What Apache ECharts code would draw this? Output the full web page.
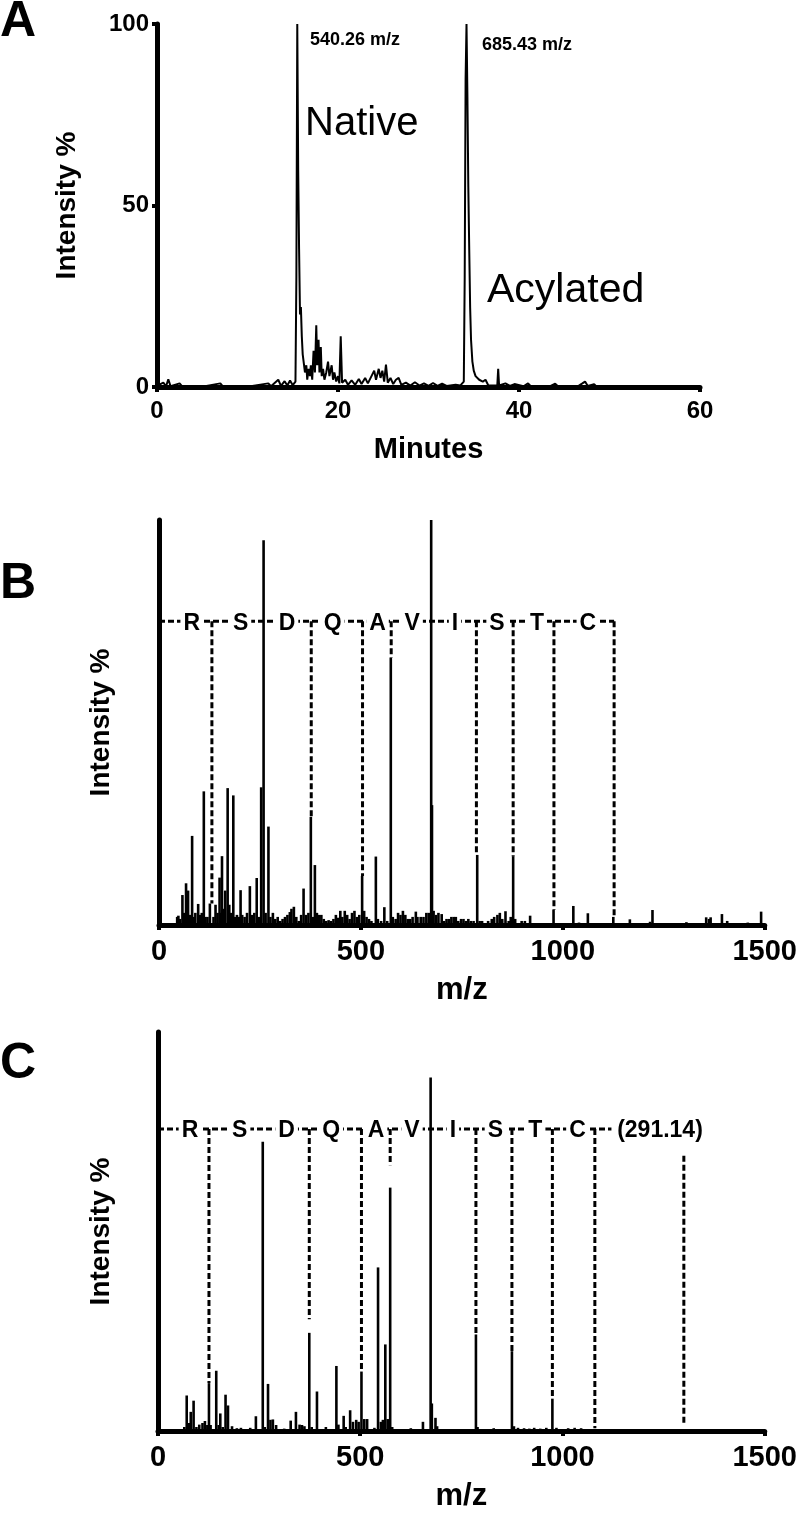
<!DOCTYPE html>
<html>
<head>
<meta charset="utf-8">
<title>Native / acylated peptide: chromatogram and MS/MS</title>
<script src="https://cdn.jsdelivr.net/npm/echarts@6/dist/echarts.min.js"></script>
<style>
html, body {margin: 0; padding: 0; background: #fff;}
#main {width: 800px; height: 1513px;}
</style>
</head>
<body>
<div id="main"></div>
<script>
// A: LC chromatogram (minutes, intensity %)
var chromTime = [0, 0.7, 1.0, 1.25, 1.5, 2.5, 2.8, 5, 7, 7.3, 10, 12.3, 12.6, 13.4, 13.7, 14.1, 14.4, 14.7, 15.0, 15.3,
	15.4, 15.5, 15.6, 15.7, 15.8, 15.9, 16.0, 16.1, 16.2, 16.35, 16.5, 16.6, 16.75, 16.9, 17.0, 17.15, 17.3, 17.45, 17.6, 17.7,
	17.85, 17.95, 18.1, 18.2, 18.35, 18.5, 18.7, 18.9, 19.05, 19.3, 19.45, 19.6, 19.8, 20.0, 20.15, 20.3, 20.45, 20.8, 21.1, 21.5,
	21.9, 22.3, 22.6, 23.0, 23.3, 23.7, 24.0, 24.2, 24.5, 24.7, 24.9, 25.1, 25.3, 25.5, 25.8, 26.1, 26.4, 26.7, 27.0, 27.5,
	28.0, 28.5, 29.0, 29.5, 30.0, 30.5, 31.0, 31.5, 32.0, 33.0, 33.5, 33.9, 34.0, 34.1, 34.2, 34.3, 34.4, 34.5, 34.6, 34.7,
	34.85, 35.0, 35.2, 35.4, 35.6, 35.8, 36.0, 36.3, 36.6, 37.0, 37.6, 37.7, 37.8, 38.5, 39.0, 39.5, 40.5, 41.0, 41.3, 43.5,
	44.0, 44.3, 46.5, 47.0, 47.3, 47.6, 48.3, 48.6];
var chromInt = [0.3, 1.2, 0.2, 2.1, 0.2, 1.0, 0.1, 0.1, 1.0, 0.1, 0.1, 1.0, 0.2, 2.0, 0.3, 1.6, 0.4, 1.8, 0.5, 1.5,
	30, 100, 60, 38, 20, 22, 14, 9, 7, 4, 6, 2, 5, 3, 6, 2, 10, 4, 17, 6,
	13, 4, 11, 3, 5, 2, 4, 7, 3, 6, 2, 4, 1.5, 3, 1, 14, 1.2, 2, 0.6, 1.8,
	0.6, 2.2, 0.8, 2.5, 1.0, 3, 4.5, 2, 5, 2.5, 4.5, 1.5, 6.2, 1.2, 2.5, 0.8, 2, 2.5, 0.6, 1.2,
	0.4, 1.3, 0.4, 1, 0.3, 1.1, 0.3, 0.9, 0.3, 0.6, 0.4, 1.5, 30, 85, 100, 80, 55, 38, 22, 13,
	7, 4.5, 3, 2.5, 2, 2, 1.5, 2, 0.5, 0.4, 0.4, 5, 0.4, 1, 0.3, 0.8, 0.2, 1, 0.2, 0.3,
	0.9, 0.2, 0.2, 1, 1.5, 0.3, 0.8, 0];

// B: MS/MS of native peptide (m/z, relative intensity %)
var specBmz = [45, 48, 52, 58, 62, 67, 72, 76, 82, 86, 90, 97, 101, 106, 111, 115, 120, 126, 135, 140,
	145, 150, 153, 156, 160, 164, 170, 174, 178, 184, 188, 193, 198, 202, 206, 212, 218, 225, 230, 236,
	242, 247, 253, 259, 264, 271, 276, 282, 288, 294, 300, 306, 312, 318, 324, 328, 334, 340, 346, 352,
	358, 364, 370, 376, 381, 386, 391, 396, 402, 408, 414, 420, 426, 432, 438, 444, 449, 454, 460, 466,
	472, 478, 484, 490, 496, 503, 508, 514, 520, 526, 537, 542, 550, 558, 565, 574, 579, 586, 592, 598,
	604, 610, 616, 622, 628, 636, 640, 648, 655, 662, 668, 674, 676, 680, 686, 692, 700, 706, 712, 718,
	724, 730, 735, 741, 748, 754, 760, 766, 772, 779, 788, 794, 800, 815, 824, 830, 838, 844, 850, 858,
	866, 871, 877, 882, 898, 906, 919, 925, 977, 990, 1026, 1040, 1062, 1125, 1166, 1216, 1222, 1306, 1355, 1362,
	1366, 1394, 1407, 1458, 1491];
var specBint = [2.0, 2.3, 1.5, 7.4, 3, 10.3, 8.5, 2.5, 22, 2, 3, 5.2, 2.5, 3, 33, 2, 2, 5.3, 2, 5,
	3, 11.7, 3, 17, 4, 8.5, 33.8, 5, 3, 32, 2, 2.5, 2, 8.6, 2.5, 2, 3, 9.6, 2.5, 3,
	11.6, 2, 34, 95, 3, 24.3, 2, 3, 1.5, 2, 1, 1.5, 2, 2.5, 3.2, 4, 4.5, 2, 1, 2.5,
	9, 2.5, 3, 26.7, 2, 14.8, 3, 2.5, 2.5, 1.5, 1, 1.2, 1, 1.5, 2.5, 1.8, 3.5, 2, 3.5, 2.5,
	1.5, 3, 3.5, 2, 2.5, 12.1, 3.5, 2, 1.5, 1, 16.9, 1.5, 1, 4.4, 1, 66, 2, 1.5, 3, 2.5,
	3.5, 2.5, 1.5, 1.5, 2, 3.3, 2, 2, 2, 3, 3, 100, 29.6, 3.5, 2.5, 3, 2.7, 1, 1.5, 1.5,
	2, 2, 2, 1, 1.5, 1.5, 1, 1.5, 1, 1, 17.3, 1, 1, 1, 1.5, 2, 2.5, 3, 1.5, 3.4,
	1, 2, 17, 1.5, 1, 1, 2.3, 0.5, 3.7, 0.5, 4.7, 0.6, 2.9, 2, 1.4, 0.8, 3.7, 0.7, 1.9, 1.5,
	1.9, 2.7, 1, 0.6, 3.3];
var ladderBmz = [131, 377, 504, 575, 786, 877, 978, 1127];
var ladderBtop = [75, 75, 75, 75, 75, 75, 75, 75];
var ladderBend = [5.3, 26.7, 12.1, 66, 17.3, 17, 3.7, 2];
var ladderBlevel = 75;
var ladderBstop = 1127;
var lettersB = ['R', 'S', 'D', 'Q', 'A', 'V', 'I', 'S', 'T', 'C'];
var letterBpos = [81, 202, 317, 430, 541, 627, 733, 837, 936, 1062];

// C: MS/MS of acylated peptide
var specCmz = [65, 71, 76, 81, 88, 95, 102, 110, 116, 122, 126, 130, 144, 150, 154, 160, 167, 173, 183, 195,
	205, 215, 228, 242, 259, 264, 272, 278, 284, 292, 300, 312, 328, 335, 341, 350, 356, 362, 374, 380,
	393, 410, 415, 441, 446, 459, 464, 475, 482, 490, 496, 503, 510, 517, 525, 535, 544, 551, 556, 562,
	568, 574, 579, 598, 625, 640, 655, 674, 677, 686, 690, 727, 763, 786, 790, 830, 875, 880, 890, 905,
	918, 930, 945, 960, 975, 985, 1000, 1014, 1030, 1046, 1070, 1100, 1130, 1160, 1200, 1250, 1290, 1350, 1420];
var specCint = [1, 8.9, 2, 4.8, 7.6, 1, 1.6, 2, 2.5, 1.5, 12, 1.5, 15.1, 1.5, 4.4, 1, 9.1, 6.4, 1.2, 0.7,
	0.8, 0.5, 0.8, 3.7, 72.5, 1, 11.8, 2.8, 2.9, 1.5, 0.5, 0.6, 2.6, 0.5, 4.8, 1.6, 1.5, 1.2, 24.6, 1,
	9.9, 0.5, 1, 16.3, 1.6, 3.8, 1, 5.2, 2.3, 2.8, 2.3, 14.9, 3, 3, 0.5, 0.8, 41, 2.3, 2.8, 21.7,
	3, 61, 1, 0.5, 0.7, 0.4, 2.3, 88.6, 6.9, 3.3, 1.2, 0.5, 0.4, 24.2, 1, 0.7, 20, 1.2, 0.8, 0.7,
	0.6, 0.8, 0.6, 0.8, 8.1, 0.8, 0.5, 0.7, 0.8, 0.7, 0.4, 0.4, 0.4, 0.3, 0.4, 0.4, 0.4, 0.4, 0.4];
var ladderCmz = [126, 374, 503, 574, 786, 875, 975, 1080, 1300];
var ladderCtop = [75.7, 75.7, 75.7, 75.7, 75.7, 75.7, 75.7, 75.7, 69];
var ladderCend = [12, 28, 14.9, 66.6, 23.8, 20, 8, 0.7, 2];
var ladderClevel = 75.7;
var ladderCstop = 1121;
var lettersC = ['R', 'S', 'D', 'Q', 'A', 'V', 'I', 'S', 'T', 'C', '(291.14)'];
var letterCpos = [79, 202, 318, 428, 539, 628, 729, 834, 933, 1037, 1241];

var FONT = '"Liberation Sans", Arial, sans-serif';

function zip(a, b) {
	var out = [];
	for (var i = 0; i < a.length; i++) {
		out.push([a[i], b[i]]);
	}
	return out;
}

function xAxisOf(idx, max, interval, labelSize, nameSize, name, nameGap, margin) {
	return {
		type: 'value', gridIndex: idx, min: 0, max: max, interval: interval,
		name: name, nameLocation: 'middle', nameGap: nameGap,
		nameTextStyle: {fontFamily: FONT, fontWeight: 'bold', fontSize: nameSize, color: '#000'},
		axisLine: {show: true, onZero: false, lineStyle: {color: '#000', width: 5}},
		axisTick: {show: true, length: 5, lineStyle: {color: '#000', width: 4}},
		axisLabel: {fontFamily: FONT, fontWeight: 'bold', fontSize: labelSize, color: '#000', margin: margin,
			formatter: function(v) { return String(v); }}, //不要千位分隔符
		splitLine: {show: false}
	};
}

function yAxisOf(idx, showLabels, nameGap) {
	return {
		type: 'value', gridIndex: idx, min: 0, max: 100, interval: 50,
		name: 'Intensity %', nameLocation: 'middle', nameGap: nameGap,
		nameTextStyle: {fontFamily: FONT, fontWeight: 'bold', fontSize: 28, color: '#000'},
		axisLine: {show: true, onZero: false, lineStyle: {color: '#000', width: 5}},
		axisTick: {show: showLabels, length: 5, lineStyle: {color: '#000', width: 4}},
		axisLabel: {show: showLabels, fontFamily: FONT, fontWeight: 'bold', fontSize: 24, color: '#000', margin: 8},
		splitLine: {show: false}
	};
}

// stick spectrum: one vertical line per m/z
function stickSeries(idx, mz, inten) {
	return {
		type: 'custom', xAxisIndex: idx, yAxisIndex: idx, z: 3,
		data: zip(mz, inten), encode: {x: 0, y: 1},
		renderItem: function(params, api) {
			var p0 = api.coord([api.value(0), 0]);
			var p1 = api.coord([api.value(0), api.value(1)]);
			return {type: 'line', shape: {x1: p0[0], y1: p0[1], x2: p1[0], y2: p1[1]},
				style: {stroke: '#000', lineWidth: 2.6}};
		}
	};
}

// dashed fragment ladder: horizontal line plus drops to the fragment peaks
function ladderSeries(idx, mz, top, end, level, stop) {
	var data = [[0, level, stop, level]];
	for (var i = 0; i < mz.length; i++) {
		data.push([mz[i], top[i], mz[i], end[i]]);
	}
	return {
		type: 'custom', xAxisIndex: idx, yAxisIndex: idx, z: 4,
		data: data, encode: {x: 0, y: 1},
		renderItem: function(params, api) {
			var p0 = api.coord([api.value(0), api.value(1)]);
			var p1 = api.coord([api.value(2), api.value(3)]);
			return {type: 'line', shape: {x1: p0[0], y1: p0[1], x2: p1[0], y2: p1[1]},
				style: {stroke: '#000', lineWidth: 3, lineDash: [6, 3]}};
		}
	};
}

function letterSeries(idx, pos, letters, level) {
	var data = [];
	for (var i = 0; i < pos.length; i++) {
		data.push([pos[i], level]);
	}
	return {
		type: 'custom', xAxisIndex: idx, yAxisIndex: idx, z: 6,
		data: data, encode: {x: 0, y: 1},
		renderItem: function(params, api) {
			var p = api.coord([api.value(0), api.value(1)]);
			return {type: 'text', x: p[0], y: p[1] + 2,
				style: {text: letters[params.dataIndex], font: 'bold 23px ' + FONT, fill: '#000',
					align: 'center', verticalAlign: 'middle', backgroundColor: '#fff', padding: [0, 3]}};
		}
	};
}

function note(text, x, y, font) {
	return {type: 'text', x: x, y: y, z: 10,
		style: {text: text, font: font, fill: '#000', align: 'left', verticalAlign: 'middle'}};
}

var myChart = echarts.init(document.getElementById('main'));
var option = {
	animation: false,
	backgroundColor: '#fff',
	grid: [
		{left: 157, top: 24, width: 543, height: 363},
		{left: 159, top: 520, width: 608, height: 405},
		{left: 158, top: 1032, width: 609, height: 404}
	],
	xAxis: [
		xAxisOf(0, 60, 20, 24, 29, 'Minutes', 48, 12),
		xAxisOf(1, 1500, 500, 29, 31, 'm/z', 50, 12),
		xAxisOf(2, 1500, 500, 29, 31, 'm/z', 50, 12)
	],
	yAxis: [
		yAxisOf(0, true, 76),
		yAxisOf(1, false, 44),
		yAxisOf(2, false, 43)
	],
	graphic: [
		note('A', 0, 22, 'bold 50px ' + FONT),
		note('B', 0, 584, 'bold 50px ' + FONT),
		note('C', 0, 1064, 'bold 50px ' + FONT),
		note('540.26 m/z', 310, 40, 'bold 18px ' + FONT),
		note('685.43 m/z', 482, 45, 'bold 18px ' + FONT),
		note('Native', 305, 124, '40px ' + FONT),
		note('Acylated', 487, 291, '41px ' + FONT)
	],
	series: [
		{
			type: 'line', xAxisIndex: 0, yAxisIndex: 0, z: 3,
			data: zip(chromTime, chromInt), showSymbol: false,
			lineStyle: {color: '#000', width: 2}
		},
		stickSeries(1, specBmz, specBint),
		ladderSeries(1, ladderBmz, ladderBtop, ladderBend, ladderBlevel, ladderBstop),
		letterSeries(1, letterBpos, lettersB, ladderBlevel),
		stickSeries(2, specCmz, specCint),
		ladderSeries(2, ladderCmz, ladderCtop, ladderCend, ladderClevel, ladderCstop),
		letterSeries(2, letterCpos, lettersC, ladderClevel)
	]
};
myChart.setOption(option);
window.onresize = myChart.resize;
</script>
</body>
</html>
